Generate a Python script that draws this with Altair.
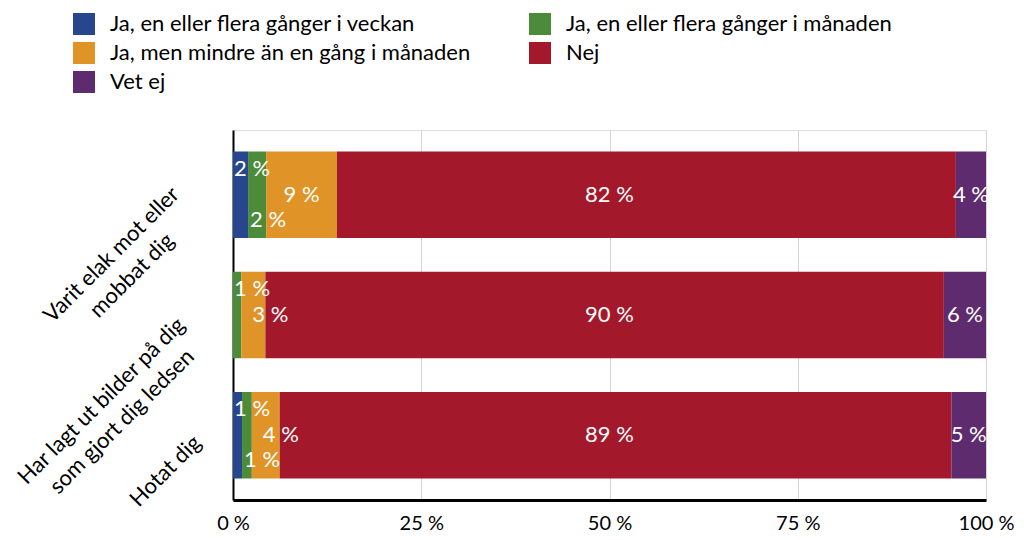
import altair as alt
import pandas as pd

FONT = "Lato"

categories = ["Varit elak mot eller\nmobbat dig",
              "Har lagt ut bilder på dig\nsom gjort dig ledsen",
              "Hotat dig"]
series = ["Ja, en eller flera gånger i veckan",
          "Ja, en eller flera gånger i månaden",
          "Ja, men mindre än en gång i månaden",
          "Nej",
          "Vet ej"]
colors = ["#27468E", "#4C8B3A", "#E09326", "#A3182A", "#5E2C6E"]

vals_weekly = [2.0, 0.0, 1.2]
vals_monthly = [2.4, 1.1, 1.3]
vals_less = [9.4, 3.2, 3.7]
vals_no = [82.2, 90.1, 89.2]
vals_dk = [4.0, 5.6, 4.6]

all_vals = [vals_weekly, vals_monthly, vals_less, vals_no, vals_dk]

rows = []
for i, c in enumerate(categories):
    k = 0
    for j, s in enumerate(series):
        v = all_vals[j][i]
        if v <= 0:
            pos = "none"
        elif v < 3:
            pos = "top" if k % 2 == 0 else "bottom"
            k += 1
        elif v < 5 and j < len(series) - 1:
            pos = "midleft"
        else:
            pos = "mid"
        rows.append({"cat": c, "series": s, "order": j, "value": v,
                     "label": f"{int(round(v))} %", "pos": pos})
df = pd.DataFrame(rows)

base = alt.Chart(df).transform_stack(
    stack="value", groupby=["cat"], as_=["x0", "x1"],
    sort=[alt.SortField("order", order="ascending")]
).transform_calculate(
    mid="(datum.x0 < 50 && datum.x1 > 50) ? 50 : (datum.x0 + datum.x1) / 2")

xscale = alt.Scale(domain=[0, 100], nice=False)
xaxis = alt.Axis(values=[0, 25, 50, 75, 100], labelExpr="datum.value + ' %'",
                 title=None, grid=True, gridColor="#d4d4d4", gridWidth=1,
                 domainColor="black", domainWidth=3, ticks=False,
                 labelFontSize=20, labelFont=FONT, labelColor="black",
                 labelPadding=13, labelFlush=False)

t_varit = "substring(datum.value, 0, 5) == 'Varit'"
t_har = "substring(datum.value, 0, 3) == 'Har'"
label_pad = {"condition": [
    {"test": t_varit, "value": 122},
    {"test": t_har, "value": 132},
], "value": 68}
label_off = {"condition": [
    {"test": t_varit, "value": 60},
    {"test": t_har, "value": 86},
], "value": 36}

y = alt.Y("cat:N", sort=categories,
          scale=alt.Scale(paddingInner=0.28, paddingOuter=0.18),
          axis=alt.Axis(title=None, labelExpr="split(datum.label, '\\n')",
                        labelAngle=315, labelAlign="center", labelBaseline="middle",
                        labelPadding=label_pad, labelOffset=label_off,
                        ticks=False, domainColor="black",
                        domainWidth=2, labelFontSize=22, labelFont=FONT,
                        labelColor="black", labelLineHeight=29, labelLimit=400))

bars = base.mark_bar(stroke=None).encode(
    x=alt.X("x0:Q", scale=xscale, axis=xaxis),
    x2="x1:Q",
    y=y,
    color=alt.Color("series:N", scale=alt.Scale(domain=series, range=colors),
                    legend=alt.Legend(title=None, orient="none", legendX=-160, legendY=-117,
                                      direction="horizontal", columns=2,
                                      symbolType="square", symbolSize=484,
                                      symbolStrokeWidth=0, symbolOpacity=1,
                                      labelFontSize=22, labelFont=FONT, labelColor="black",
                                      labelOffset=15, rowPadding=7, columnPadding=58,
                                      labelLimit=500)),
)

txt_kw = dict(color="white", fontSize=22, font=FONT, baseline="middle")
mid = base.transform_filter("datum.pos == 'mid'").mark_text(
    align="center", **txt_kw).encode(
    x=alt.X("mid:Q", scale=xscale, axis=xaxis), y=y, text="label:N")
midleft = base.transform_filter("datum.pos == 'midleft'").mark_text(
    align="left", dx=11, **txt_kw).encode(
    x=alt.X("x0:Q", scale=xscale, axis=xaxis), y=y, text="label:N")
top = base.transform_filter("datum.pos == 'top'").mark_text(
    align="left", dx=1, dy=-26, **txt_kw).encode(
    x=alt.X("x0:Q", scale=xscale, axis=xaxis), y=y, text="label:N")
bottom = base.transform_filter("datum.pos == 'bottom'").mark_text(
    align="left", dx=2, dy=25, **txt_kw).encode(
    x=alt.X("x0:Q", scale=xscale, axis=xaxis), y=y, text="label:N")

chart = alt.layer(bars, mid, midleft, top, bottom).properties(
    width=753, height=370,
    autosize=alt.AutoSizeParams(type="none"),
    padding={"left": 225, "top": 122, "right": 30, "bottom": 32},
).configure_view(stroke=None).configure(background="white")

chart.save("out.html", embed_options={"renderer": "svg", "actions": False})
